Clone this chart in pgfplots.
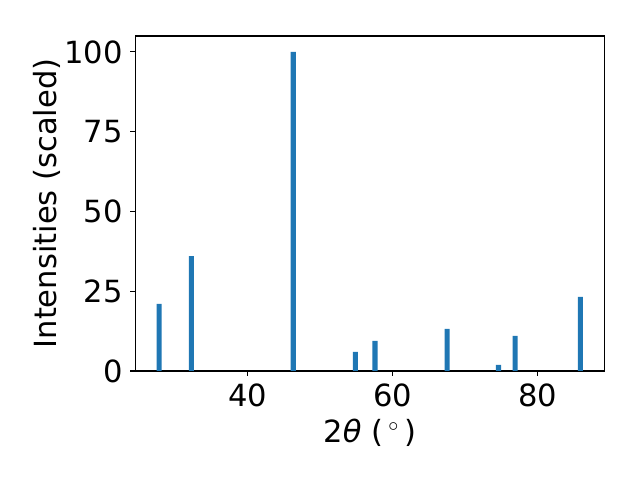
\documentclass[border=0pt]{standalone}
\usepackage{fontspec}
\setmainfont{DejaVu Sans}
\usepackage{pgfplots}
\pgfplotsset{compat=1.18}
\definecolor{c0}{HTML}{1F77B4}
\begin{document}
\fontsize{22}{26}\selectfont
\begin{tikzpicture}
\useasboundingbox (-97.4pt,-78.5pt) rectangle (363.4pt,267.1pt);
\begin{axis}[
  at={(0,0)}, anchor=south west,
  scale only axis, width=337.7pt, height=241.2pt,
  xmin=24.47, xmax=89.2, ymin=0, ymax=105,
  xtick={40,60,80}, ytick={0,25,50,75,100},
  tick align=outside, major tick length=3.5pt,
  tick style={black, line width=0.8pt},
  axis line style={line width=0.8pt},
  xtick pos=bottom, ytick pos=left,
  /pgf/number format/assume math mode=true,
  ticklabel style={font=\fontsize{22}{26}\selectfont},
  label style={font=\fontsize{22}{26}\selectfont},
  xlabel={2{\itshape θ} (\,$^\circ$\,)},
  ylabel={Intensities (scaled)},
  xlabel style={at={(0.5,0)}, anchor=north, yshift=-27pt},
  ylabel style={at={(0,0.5)}, anchor=south, yshift=46pt},
  xticklabel style={yshift=2pt},
  yticklabel style={xshift=2pt},
]
\addplot[ybar, bar width=0.7, bar shift=0pt, fill=c0, draw=none] coordinates {
(27.76,21.0) (32.2,36.0) (46.27,100) (54.85,6.0) (57.55,9.4) (67.5,13.2) (74.6,1.9) (76.9,11.0) (85.9,23.2)
};
\end{axis}
\end{tikzpicture}
\end{document}
